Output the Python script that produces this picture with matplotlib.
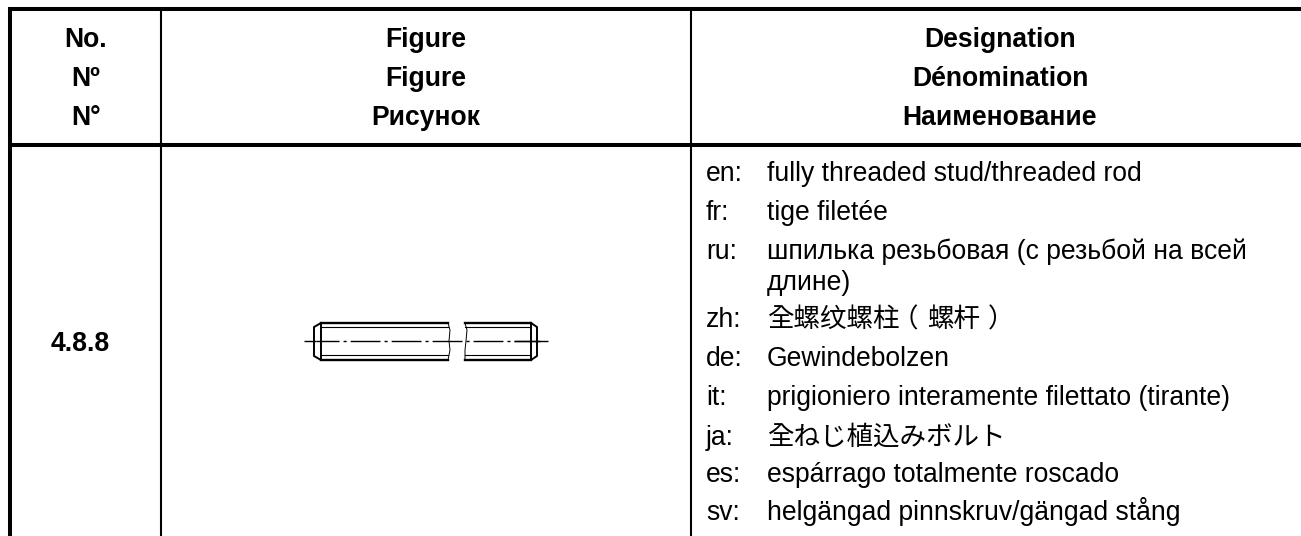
import matplotlib
matplotlib.use('Agg')
import matplotlib.pyplot as plt

plt.rcParams['font.family'] = ['Liberation Sans', 'Noto Sans CJK KR', 'DejaVu Sans']

W = 1301
H = 536

col_no = ['No.', 'Nº', 'N°']
col_figure = ['Figure', 'Figure', 'Рисунок']
col_name = ['Designation', 'Dénomination', 'Наименование']
number = '4.8.8'
codes = ['en:', 'fr:', 'ru:', '', 'zh:', 'de:', 'it:', 'ja:', 'es:', 'sv:']
names = ['fully threaded stud/threaded rod',
         'tige filetée',
         'шпилька резьбовая (с резьбой на всей',
         'длине)',
         '',
         'Gewindebolzen',
         'prigioniero interamente filettato (tirante)',
         '全ねじ植込みボルト',
         'espárrago totalmente roscado',
         'helgängad pinnskruv/gängad stång']
name_y = [181, 220, 259, 290, 327, 366, 405, 445, 482, 520]
# zh line is drawn in pieces, the brackets sit mid cell in the original
zh_parts = ['全螺纹螺柱', '（', '螺杆', '）']
zh_x = [767, 905, 927, 1001]
zh_ha = ['left', 'center', 'left', 'center']

fig = plt.figure(figsize=(W / 100, H / 100), dpi=100)
ax = fig.add_axes([0, 0, 1, 1])
ax.set_xlim(0, W)
ax.set_ylim(H, 0)
ax.axis('off')

# table rules
ax.plot([10, 10], [7, H], color='black', lw=2.9, solid_capstyle='butt')
ax.plot([8, W], [9, 9], color='black', lw=2.9, solid_capstyle='butt')
ax.plot([8, W], [145, 145], color='black', lw=2.9, solid_capstyle='butt')
ax.plot([161, 161], [9, H], color='black', lw=1.5, solid_capstyle='butt')
ax.plot([691, 691], [9, H], color='black', lw=1.5, solid_capstyle='butt')

for i, y in enumerate([47, 86, 125]):
    ax.text(86, y, col_no[i], ha='center', va='baseline', fontsize=19.1, fontweight='bold')
    ax.text(426, y, col_figure[i], ha='center', va='baseline', fontsize=19.1, fontweight='bold')
    ax.text(1000, y, col_name[i], ha='center', va='baseline', fontsize=19.1, fontweight='bold')

ax.text(80.5, 351, number, ha='center', va='baseline', fontsize=19.1, fontweight='bold')

for c, n, y in zip(codes, names, name_y):
    if c:
        ax.text(706, y, c, ha='left', va='baseline', fontsize=19.1)
    if n:
        ax.text(767, y, n, ha='left', va='baseline', fontsize=19.1)

for part, x, ha in zip(zh_parts, zh_x, zh_ha):
    ax.text(x, name_y[4], part, ha=ha, va='baseline', fontsize=19.1)

# stud drawing
ax.plot([304, 316], [341, 341], color='black', lw=1, solid_capstyle='butt')
ax.plot([316, 540], [341, 341], color='black', lw=1,
        linestyle=(4.9, (21.5, 2.9, 2.2, 2.9)), dash_capstyle='butt')
ax.plot([514, 548], [341, 341], color='black', lw=1, solid_capstyle='butt')
ax.plot([321, 448], [323, 323], color='black', lw=1.7)
ax.plot([321, 448], [360, 360], color='black', lw=1.7)
ax.plot([321, 448], [327, 327], color='black', lw=0.8)
ax.plot([321, 448], [355, 355], color='black', lw=0.8)
ax.plot([465, 531], [323, 323], color='black', lw=1.7)
ax.plot([465, 531], [360, 360], color='black', lw=1.7)
ax.plot([465, 531], [327, 327], color='black', lw=0.8)
ax.plot([465, 531], [355, 355], color='black', lw=0.8)
ax.plot([321, 314, 314, 321, 321], [323, 327, 356, 360, 323], color='black', lw=1.4)
ax.plot([531, 537, 537, 531, 531], [323, 327, 356, 360, 323], color='black', lw=1.4)
ax.plot([448, 450, 449, 450, 448], [323, 330, 341, 350, 360], color='black', lw=0.7)
ax.plot([465, 467, 466, 465, 465], [323, 330, 341, 350, 360], color='black', lw=0.7)

fig.savefig('out.png', dpi=100)
